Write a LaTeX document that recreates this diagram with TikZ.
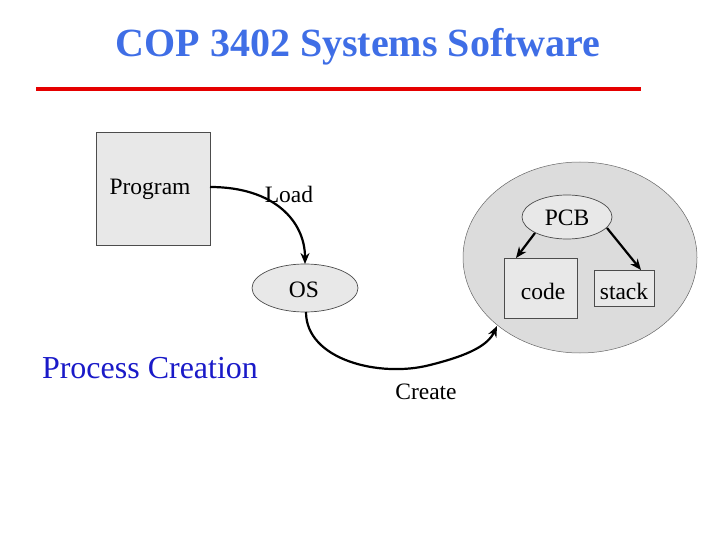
\documentclass[tikz,border=0pt]{standalone}
\usepackage{fontspec}
\setmainfont{Liberation Serif}
\usetikzlibrary{shapes.geometric,arrows.meta}
\definecolor{titleblue}{HTML}{3F6EE6}
\definecolor{procblue}{HTML}{1A1AC8}
\definecolor{boxgray}{HTML}{E8E8E8}
\definecolor{biggray}{HTML}{DCDCDC}
\begin{document}
\begin{tikzpicture}[x=1pt,y=-1pt,
  lbl/.style={font=\fontsize{23.5}{25}\selectfont,inner sep=0pt},
  graybox/.style={draw=black!70,fill=boxgray,line width=0.7pt,inner sep=0pt},
  grayell/.style={ellipse,draw=black!70,fill=boxgray,line width=0.7pt,inner sep=0pt},
  conn/.style={line width=2.2pt,-{Stealth[length=11pt,width=9pt]}}]
\useasboundingbox (0,0) rectangle (720,540);
\node[font=\fontsize{40}{44}\bfseries\selectfont,text=titleblue] (title) at (358,47) {COP 3402 Systems Software};
\draw[red!90!black,line width=4pt] (36,89) -- (641,89);
% Program
\node[graybox,minimum width=114pt,minimum height=113pt] (prog) at (153,188.5) {};
\node[lbl] (progt) at (150,189) {Program};
\node[lbl] (load) at (289,194) {Load};
% OS
\node[grayell,minimum width=106pt,minimum height=48pt] (os) at (305,288) {};
\node[lbl] (ost) at (304,290) {OS};
\node[font=\fontsize{32}{34}\selectfont,text=procblue,inner sep=0pt] (pc) at (150,368) {Process Creation};
% Process
\node[ellipse,draw=black!60,fill=biggray,line width=0.5pt,minimum width=234pt,minimum height=191pt,inner sep=0pt] (proc) at (580,257.5) {};
\node[grayell,minimum width=90pt,minimum height=44pt] (pcb) at (567,217) {};
\node[lbl] (pcbt) at (567,218) {PCB};
\node[graybox,minimum width=73pt,minimum height=60pt] (code) at (540.5,288) {};
\node[lbl] (codet) at (543,291) {code};
\node[graybox,minimum width=60pt,minimum height=36pt] (stack) at (624,288) {};
\node[lbl] (stackt) at (624,291) {stack};
\node[lbl] (create) at (426,392) {Create};
\coordinate (pcbl) at (535,233);
\coordinate (pcbr) at (607,228);
\coordinate (codein) at (516,258);
\coordinate (stackin) at (641,270);
\draw[conn] (pcbl) -- (codein);
\draw[conn] (pcbr) -- (stackin);
% curves
\coordinate (progr) at (210,187);
\coordinate (ostop) at (305,264);
\draw[conn] (progr) .. controls (275,187) and (305,222) .. (ostop);
\coordinate (osbot) at (306,312);
\coordinate (procin) at (497,326);
\draw[conn] (osbot) .. controls (306,360) and (380,378) .. (430,365) .. controls (470,355) and (488,345) .. (procin);
\end{tikzpicture}
\end{document}
